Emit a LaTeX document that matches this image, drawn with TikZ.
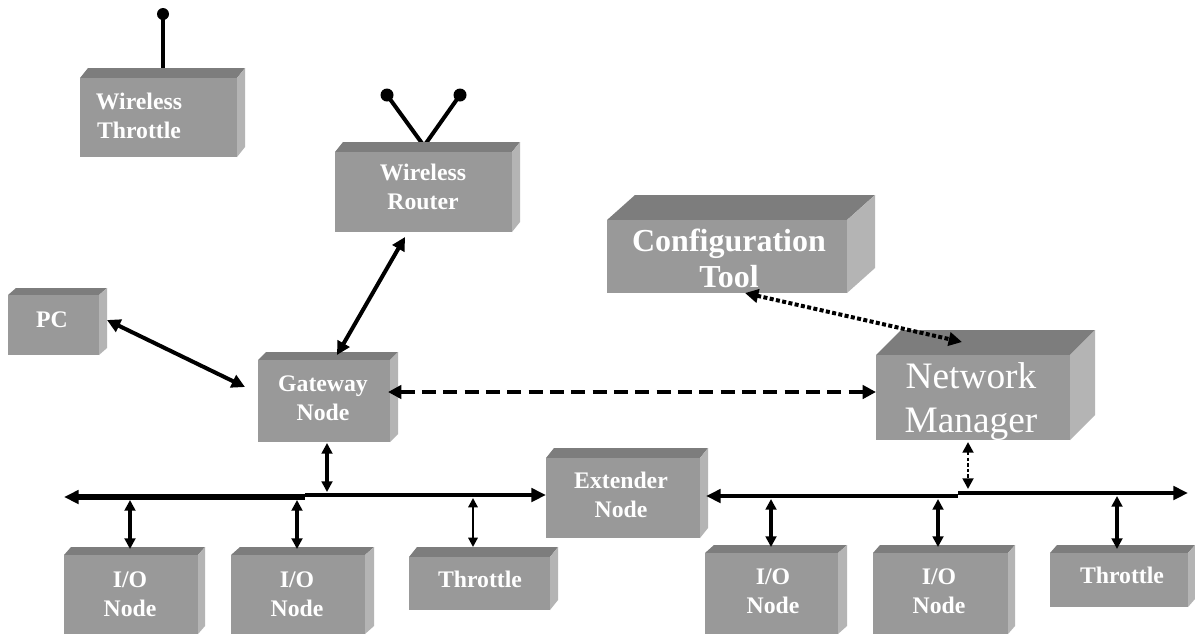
\documentclass[tikz,border=0pt]{standalone}
\usepackage{fontspec}
\setmainfont{Liberation Serif}
\usetikzlibrary{arrows.meta,calc}
\definecolor{slabfrontc}{HTML}{999999}
\definecolor{slabtopc}{HTML}{7D7D7D}
\definecolor{slabsidec}{HTML}{B4B4B4}

% a shaded 3-D block: name, x1, y1, x2, y2 (front face), depth dx, dy
\newcommand\slab[7]{%
  \fill[slabtopc] (#2,#3) -- (#2+#6,#3-#7) -- (#4+#6,#3-#7) -- (#4,#3) -- cycle;
  \fill[slabsidec] (#4,#3) -- (#4+#6,#3-#7) -- (#4+#6,#5-#7) -- (#4,#5) -- cycle;
  \node[slabfront, minimum width={(#4-#2)*0.75pt}, minimum height={(#5-#3)*0.75pt}]
    (#1) at ({(#2+#4)/2},{(#3+#5)/2}) {};%
}

\begin{document}
\begin{tikzpicture}[x=0.75pt,y=-0.75pt,
  slabfront/.style={rectangle, fill=slabfrontc, draw=none, inner sep=0pt, outer sep=0pt},
  lbl/.style={text=white, font=\bfseries\fontsize{17.8}{21.75}\selectfont, align=center, inner sep=0pt, anchor=base},
  biglbl/.style={text=white, font=\bfseries\fontsize{24}{26.3}\selectfont, align=center, inner sep=0pt, anchor=base},
  nmlbl/.style={text=white, font=\fontsize{28}{33}\selectfont, align=center, inner sep=0pt, anchor=base},
  tipT/.tip={Triangle[length=10pt,width=10pt]},
  tipS/.tip={Triangle[length=8pt,width=8pt]},
  link/.style={line width=3pt, tipT-tipT},
  vlink/.style={line width=3pt, tipS-tipS},
  thinlink/.style={line width=1.6pt, {Triangle[length=7pt,width=7pt]}-{Triangle[length=7pt,width=7pt]}},
  dashlink/.style={line width=3pt, dash pattern=on 10.5pt off 5.5pt, tipT-tipT},
  dotlink/.style={line width=3pt, dash pattern=on 3pt off 1.8pt, tipT-tipT},
  dotvlink/.style={line width=2.2pt, dash pattern=on 2.6pt off 1.6pt, tipS-tipS},
  bus/.style={line width=4pt},
  bus2/.style={line width=3pt},
  antenna/.style={line width=3pt, line cap=round},
  knob/.style={fill=black, draw=none},
]
\useasboundingbox (0,0) rectangle (1195,637);
\fill[white] (0,0) rectangle (1195,637);

% antennas
\draw[antenna] (163,70) -- (163,16);
\fill[knob] (163,14) circle (6);
\draw[antenna] (387,95) -- (424,146) -- (460,95);
\fill[knob] (387,95) circle (6.5);
\fill[knob] (460,95) circle (6.5);

% blocks
\slab{wt}{80}{78}{237}{157}{8}{10}
\slab{rt}{335}{152}{512}{232}{8}{10}
\slab{ct}{607}{220}{847}{293}{28}{25}
\slab{nm}{876}{355}{1070}{440}{25}{25}
\slab{pc}{8}{295}{99}{355}{8}{7}
\slab{gw}{258}{360}{390}{442}{8}{8}
\slab{ex}{546}{458}{700}{538}{8}{10}
\slab{ioa}{64}{555}{198}{634}{7}{8}
\slab{iob}{231}{555}{365}{634}{9}{8}
\slab{thl}{409}{557}{550}{610}{8}{10}
\slab{ioc}{705}{553}{838}{634}{9}{8}
\slab{iod}{873}{553}{1008}{634}{7}{8}
\slab{thr}{1050}{553}{1188}{607}{7}{8}

% labels (anchored on the baseline of the last line)
\node[lbl] (wt-t) at (139,138) {Wireless\\Throttle};
\node[lbl] (rt-t) at (423,209) {Wireless\\Router};
\node[biglbl] (ct-t) at (729,287) {Configuration\\Tool};
\node[nmlbl] (nm-t) at (971,432) {Network\\Manager};
\node[lbl] (pc-t) at (52,327) {PC};
\node[lbl] (gw-t) at (323,420) {Gateway\\Node};
\node[lbl] (ex-t) at (621,517) {Extender\\Node};
\node[lbl] (ioa-t) at (130,616) {I/O\\Node};
\node[lbl] (iob-t) at (297,616) {I/O\\Node};
\node[lbl] (thl-t) at (480,587) {Throttle};
\node[lbl] (ioc-t) at (773,613) {I/O\\Node};
\node[lbl] (iod-t) at (939,613) {I/O\\Node};
\node[lbl] (thr-t) at (1122,583) {Throttle};

% bus segments
\coordinate (la) at (64,497);
\coordinate (lb) at (305,497);
\coordinate (lc) at (305,495);
\coordinate (ra) at (958,496);
\coordinate (rb) at (958,493);
\coordinate (rc) at (1188,493);
\draw[bus, {Triangle[length=11pt,width=10pt]}-] (la) -- (lb);
\draw[bus2, -{Triangle[length=11pt,width=10pt]}] (lc) -- (lc -| ex.west);
\draw[bus2, {Triangle[length=11pt,width=10pt]}-] ($(ex.east)+(6,-2)$) -- (ra);
\draw[bus2, -{Triangle[length=11pt,width=10pt]}] (rb) -- (rc);

% links
\draw[link] ($(pc.east)+(8,-5)$) -- ($(gw.west)+(-13,-14)$);
\draw[link] ($(rt.south)+(-18.5,5)$) -- ($(gw.north)+(13,-5)$);
\draw[dashlink] ($(gw.east)+(-2,-9)$) -- ($(nm.west)+(0,-5.5)$);
\draw[dotlink] ($(ct.south)+(18,0)$) -- ($(nm.north)+(-11,-13)$);
\draw[dotvlink] ($(nm.south)+(-5,2)$) -- ($(nm.south |- ra)+(-5,-7)$);
\draw[vlink] ($(gw.south)+(3,1)$) -- ($(gw.south |- lc)+(3,-3)$);
\draw[vlink] ($(ioa.north |- la)+(-1,3)$) -- ($(ioa.north)+(-1,-6)$);
\draw[vlink] ($(iob.north |- la)+(-1,3)$) -- ($(iob.north)+(-1,-6)$);
\draw[thinlink] ($(thl.north |- lc)+(-6.5,3)$) -- ($(thl.north)+(-6.5,-10)$);
\draw[vlink] ($(ioc.north |- ra)+(-0.5,3)$) -- ($(ioc.north)+(-0.5,-6)$);
\draw[vlink] ($(iod.north |- ra)+(-2.5,3)$) -- ($(iod.north)+(-2.5,-6)$);
\draw[vlink] ($(thr.north |- rb)+(-2,3)$) -- ($(thr.north)+(-2,-4)$);
\end{tikzpicture}
\end{document}
